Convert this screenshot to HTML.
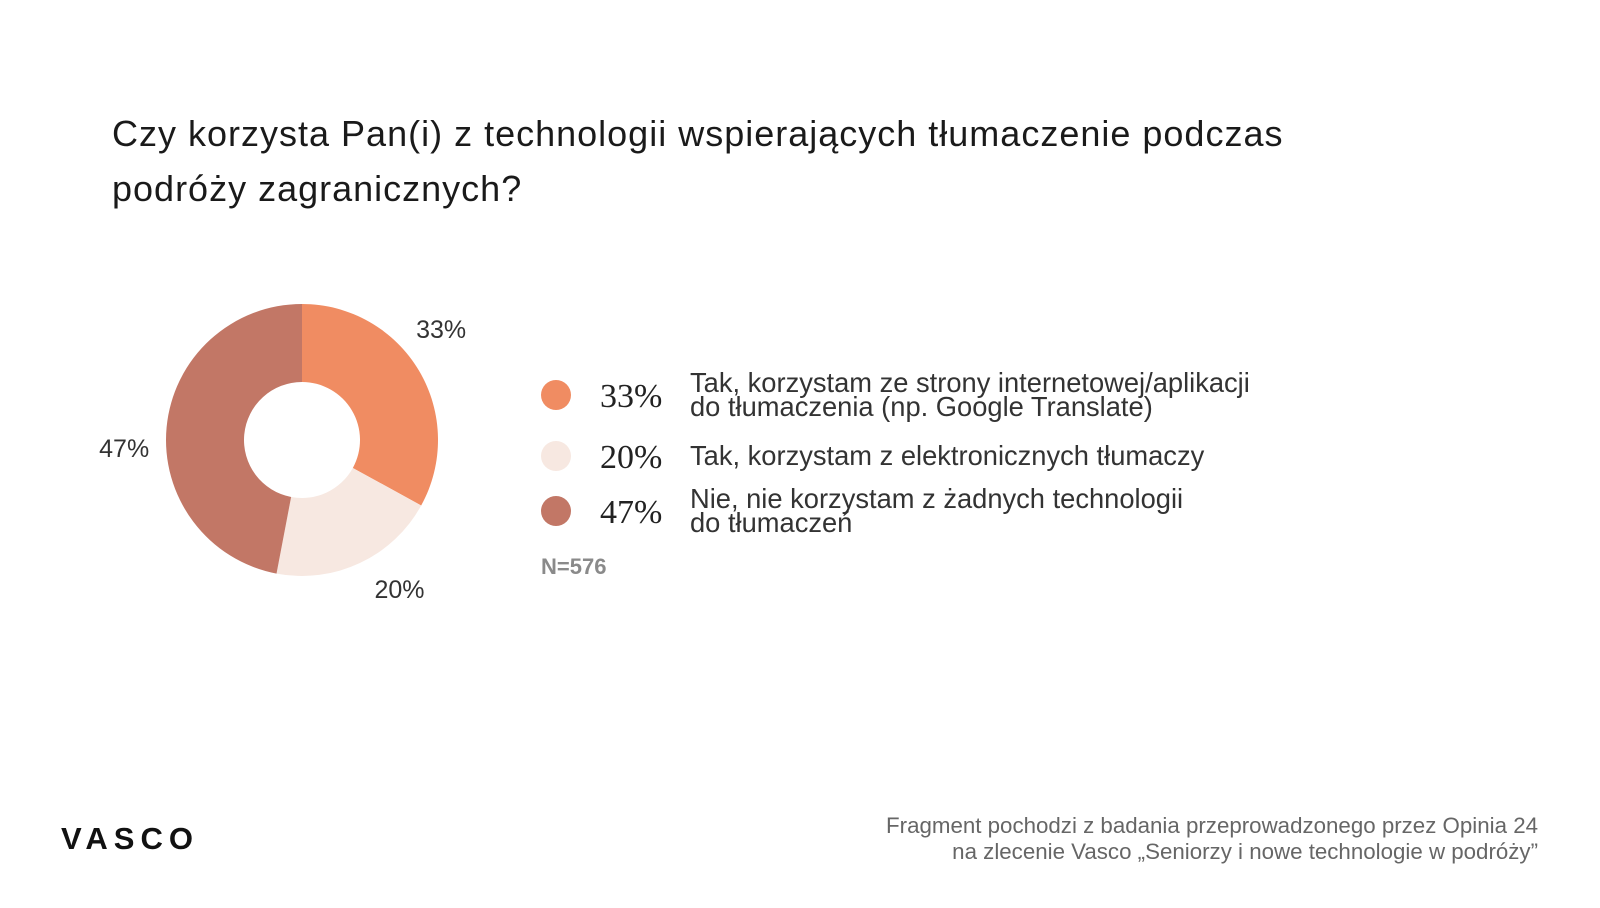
<!DOCTYPE html>
<html><head><meta charset="utf-8"><style>
body{margin:0;width:1600px;height:908px;background:#fff;font-family:"Liberation Sans",sans-serif;overflow:hidden;position:relative}
.t{position:absolute;white-space:nowrap}
</style></head><body>
<div class="t" style="left:112px;top:106px;font-size:36px;letter-spacing:1px;line-height:55px;color:#1a1a1a">Czy korzysta Pan(i) z technologii wspierających tłumaczenie podczas<br>podróży zagranicznych?</div>
<svg id="chart" width="1600" height="908" style="position:absolute;left:0;top:0"></svg>
<div class="t" style="left:541px;top:554px;font-size:22px;font-weight:bold;color:#8a8a8a">N=576</div>
<div class="t" style="left:61px;top:821px;font-size:31px;font-weight:bold;letter-spacing:6px;color:#111">VASCO</div>
<div class="t" style="right:62px;top:813px;font-size:22.3px;line-height:26px;color:#666;text-align:right">Fragment pochodzi z badania przeprowadzonego przez Opinia 24<br>na zlecenie Vasco „Seniorzy i nowe technologie w podróży”</div>
<script>
const categories=["Tak, korzystam ze strony internetowej/aplikacji|do tłumaczenia (np. Google Translate)","Tak, korzystam z elektronicznych tłumaczy","Nie, nie korzystam z żadnych technologii|do tłumaczeń"];
const values=[33,20,47];
const colors=["#f08c62","#f7e8e1","#c27766"];
const svg=document.getElementById('chart');
const NS="http://www.w3.org/2000/svg";
const cx=302,cy=440,R=136,r=58,labR=178,labShift=-8*Math.PI/180;
const total=values.reduce((a,b)=>a+b,0);
function pt(a,rad){return [cx+rad*Math.sin(a),cy-rad*Math.cos(a)];}
let acc=0;
values.forEach((v,i)=>{
  const a0=acc/total*2*Math.PI;acc+=v;const a1=acc/total*2*Math.PI;
  const lg=(a1-a0)>Math.PI?1:0;
  const [x0,y0]=pt(a0,R),[x1,y1]=pt(a1,R),[x2,y2]=pt(a1,r),[x3,y3]=pt(a0,r);
  const p=document.createElementNS(NS,'path');
  p.setAttribute('d',`M${x0},${y0}A${R},${R} 0 ${lg} 1 ${x1},${y1}L${x2},${y2}A${r},${r} 0 ${lg} 0 ${x3},${y3}Z`);
  p.setAttribute('fill',colors[i]);
  
  
  svg.appendChild(p);
  const am=(a0+a1)/2+labShift;let [lx,ly]=pt(am,labR);
  const t=document.createElementNS(NS,'text');
  t.setAttribute('x',lx);t.setAttribute('y',ly+9);
  t.setAttribute('text-anchor','middle');
  t.setAttribute('font-size','25');t.setAttribute('fill','#333');
  t.setAttribute('font-family','Liberation Sans, sans-serif');
  t.textContent=v+'%';
  
  
  svg.appendChild(t);
});
const ly0=[395,456,511];
categories.forEach((c,i)=>{
  const y=ly0[i];
  const g=document.createElementNS(NS,'g');
  
  
  const ci=document.createElementNS(NS,'circle');
  ci.setAttribute('cx',556);ci.setAttribute('cy',y);ci.setAttribute('r',15);ci.setAttribute('fill',colors[i]);
  g.appendChild(ci);
  const pv=document.createElementNS(NS,'text');
  pv.setAttribute('x',600);pv.setAttribute('y',y+12);pv.setAttribute('font-size','34');
  pv.setAttribute('font-family','Liberation Serif, serif');pv.setAttribute('fill','#222');
  pv.textContent=values[i]+'%';
  g.appendChild(pv);
  const lines=c.split('|');
  lines.forEach((l,j)=>{
    const tt=document.createElementNS(NS,'text');
    const off=lines.length===1?9:(j===0?-3:21);
    tt.setAttribute('x',690);tt.setAttribute('y',y+off);tt.setAttribute('font-size','27.3');
    tt.setAttribute('font-family','Liberation Sans, sans-serif');tt.setAttribute('fill','#333');
    tt.textContent=l;g.appendChild(tt);
  });
  svg.appendChild(g);
});
</script>
</body></html>
